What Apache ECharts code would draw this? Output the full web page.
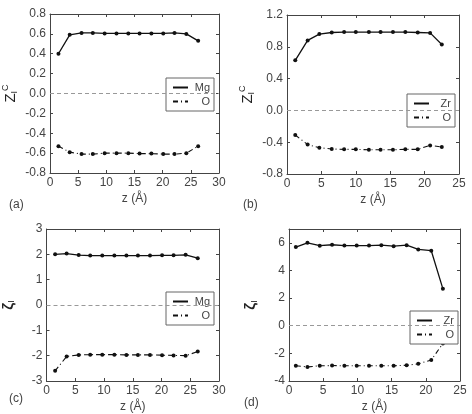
<!DOCTYPE html>
<html>
<head>
<meta charset="utf-8">
<script src="https://cdn.jsdelivr.net/npm/echarts@6/dist/echarts.min.js"></script>
<style>
  html, body { margin: 0; padding: 0; background: #fff; }
  #chart { width: 472px; height: 414px; }
</style>
</head>
<body>
<div id="chart"></div>
<script>
// panel (a) MgO, Z_I^C
var zA = [1.5, 3.5, 5.6, 7.6, 9.7, 11.8, 13.9, 15.9, 18.0, 20.1, 22.1, 24.2, 26.3];
var mgA = [0.40, 0.59, 0.61, 0.61, 0.605, 0.605, 0.605, 0.605, 0.605, 0.605, 0.61, 0.60, 0.53];
var oA = [-0.53, -0.59, -0.61, -0.61, -0.60, -0.60, -0.60, -0.605, -0.605, -0.61, -0.61, -0.60, -0.53];

// panel (b) ZrO2, Z_I^C
var zB = [1.2, 3.0, 4.7, 6.5, 8.3, 10.0, 11.9, 13.6, 15.4, 17.2, 19.0, 20.8, 22.5];
var zrB = [0.63, 0.88, 0.96, 0.98, 0.985, 0.985, 0.985, 0.985, 0.985, 0.985, 0.98, 0.975, 0.83];
var oB = [-0.31, -0.43, -0.47, -0.485, -0.49, -0.49, -0.495, -0.495, -0.495, -0.49, -0.49, -0.44, -0.46];

// panel (c) MgO, zeta_I
var zC = [1.5, 3.5, 5.6, 7.6, 9.7, 11.8, 13.9, 15.9, 18.0, 20.1, 22.1, 24.2, 26.3];
var mgC = [2.0, 2.03, 1.97, 1.95, 1.95, 1.95, 1.95, 1.95, 1.95, 1.96, 1.96, 1.98, 1.85];
var oC = [-2.6, -2.03, -1.97, -1.96, -1.96, -1.96, -1.97, -1.97, -1.97, -1.98, -1.99, -2.0, -1.84];

// panel (d) ZrO2, zeta_I
var zD = [1.0, 2.7, 4.5, 6.3, 8.1, 9.9, 11.7, 13.5, 15.3, 17.2, 18.9, 20.8, 22.5];
var zrD = [5.69, 6.0, 5.79, 5.86, 5.8, 5.8, 5.8, 5.83, 5.76, 5.83, 5.52, 5.43, 2.67];
var oD = [-2.9, -2.98, -2.9, -2.88, -2.9, -2.9, -2.9, -2.9, -2.9, -2.86, -2.76, -2.48, -1.29];

var zName = 'z (Å)';
var zcName = '{z|Z}{s|I}{p|C}';
var zetaName = '{z|ζ}{s|I}';

var panels = [
  { grid: { left: 46, top: 14, width: 173, height: 159 }, xmax: 30, ymin: -0.8, ymax: 0.8, yint: 0.2, dec: 1,
    z: zA, cat: mgA, an: oA, catName: 'Mg', yName: zcName, yGap: 29,
    legend: { left: 166, top: 78 }, tag: '(a)', tagPos: [4, 194] },
  { grid: { left: 287, top: 15, width: 172, height: 159 }, xmax: 25, ymin: -0.8, ymax: 1.2, yint: 0.4, dec: 1,
    z: zB, cat: zrB, an: oB, catName: 'Zr', yName: zcName, yGap: 29,
    legend: { left: 407, top: 94 }, tag: '(b)', tagPos: [238, 194] },
  { grid: { left: 46, top: 229, width: 173, height: 153 }, xmax: 30, ymin: -3, ymax: 3, yint: 1, dec: 0,
    z: zC, cat: mgC, an: oC, catName: 'Mg', yName: zetaName, yGap: 30,
    legend: { left: 166, top: 292 }, tag: '(c)', tagPos: [4, 388] },
  { grid: { left: 289, top: 229, width: 171, height: 153 }, xmax: 25, ymin: -4, ymax: 7, yint: 2, dec: 0,
    z: zD, cat: zrD, an: oD, catName: 'Zr', yName: zetaName, yGap: 30,
    legend: { left: 410, top: 311 }, tag: '(d)', tagPos: [239, 392] }
];

var font = 'Liberation Sans, Arial, sans-serif';
var axisColor = '#444';
var textColor = '#444';
var option = {
  animation: false,
  backgroundColor: '#fff',
  textStyle: { fontFamily: font },
  grid: [], xAxis: [], yAxis: [], series: [], legend: [], title: []
};

panels.forEach(function (p, i) {
  option.grid.push(Object.assign({ containLabel: false }, p.grid));
  var tickStyle = { show: true, inside: true, length: 3, lineStyle: { color: axisColor } };
  var lineStyle = { show: true, onZero: false, lineStyle: { color: axisColor, width: 1 } };
  option.xAxis.push({
    type: 'value', gridIndex: i, min: 0, max: p.xmax, interval: 5,
    axisLine: lineStyle, axisTick: tickStyle, splitLine: { show: false },
    axisLabel: { color: textColor, fontSize: 12, margin: 4, fontFamily: font },
    name: zName, nameLocation: 'middle', nameGap: 20,
    nameTextStyle: { color: textColor, fontSize: 12, fontFamily: font }
  });
  option.xAxis.push({
    type: 'value', gridIndex: i, position: 'top', min: 0, max: p.xmax, interval: 5,
    axisLine: lineStyle, axisTick: tickStyle, splitLine: { show: false }, axisLabel: { show: false }
  });
  option.yAxis.push({
    type: 'value', gridIndex: i, min: p.ymin, max: p.ymax, interval: p.yint,
    axisLine: lineStyle, axisTick: tickStyle, splitLine: { show: false },
    axisLabel: {
      color: textColor, fontSize: 12, margin: 4, fontFamily: font,
      formatter: function (v) { return v > p.ymax - p.yint / 2 && (p.ymax - p.ymin) / p.yint % 1 !== 0 ? '' : v.toFixed(p.dec); }
    },
    name: p.yName, nameLocation: 'middle', nameRotate: 90, nameGap: p.yGap,
    nameTextStyle: {
      color: '#222', fontFamily: font,
      rich: {
        z: { fontSize: 15, color: '#222', fontFamily: font, fontWeight: i >= 2 ? 'bold' : 'normal' },
        s: { fontSize: 9, color: '#222', fontFamily: font, padding: [7, 0, 0, 0] },
        p: { fontSize: 9, color: '#222', fontFamily: font, padding: [0, 0, 11, 0] }
      }
    }
  });
  option.yAxis.push({
    type: 'value', gridIndex: i, position: 'right', min: p.ymin, max: p.ymax, interval: p.yint,
    axisLine: lineStyle, axisTick: tickStyle, splitLine: { show: false }, axisLabel: { show: false }
  });

  var catData = p.z.map(function (x, k) { return [x, p.cat[k]]; });
  var anData = p.z.map(function (x, k) { return [x, p.an[k]]; });
  option.series.push({
    name: p.catName, type: 'line', xAxisIndex: 2 * i, yAxisIndex: 2 * i,
    data: catData, symbol: 'circle', symbolSize: 4,
    lineStyle: { color: '#111', width: 1.3 }, itemStyle: { color: '#111' },
    markLine: {
      silent: true, symbol: 'none', label: { show: false },
      lineStyle: { color: '#999', type: [4, 3], width: 1 },
      data: [{ yAxis: 0 }]
    }
  });
  option.series.push({
    name: 'O', type: 'line', xAxisIndex: 2 * i, yAxisIndex: 2 * i,
    data: anData, symbol: 'circle', symbolSize: 4,
    lineStyle: { color: '#111', width: 1.1, type: [5, 3, 1, 3] }, itemStyle: { color: '#111' }
  });

  option.legend.push({
    left: p.legend.left, top: p.legend.top, orient: 'vertical',
    data: [p.catName, 'O'],
    formatter: function (n) { return '{r|' + n + '}'; },
    backgroundColor: '#fff', borderColor: '#666', borderWidth: 1, borderRadius: 0,
    padding: [4, 4, 4, 6], itemGap: 3, itemWidth: 15, itemHeight: 10,
    itemStyle: { opacity: 0 },
    textStyle: {
      color: textColor, fontSize: 11, fontFamily: font,
      rich: { r: { width: 17, align: 'right', color: textColor, fontSize: 11, fontFamily: font } }
    },
    selectedMode: false
  });
  option.title.push({
    text: p.tag, left: p.tagPos[0], top: p.tagPos[1],
    textStyle: { color: textColor, fontSize: 12, fontWeight: 'normal', fontFamily: font }
  });
});

var chart = echarts.init(document.getElementById('chart'), null, { renderer: 'canvas' });
chart.setOption(option);
</script>
</body>
</html>
